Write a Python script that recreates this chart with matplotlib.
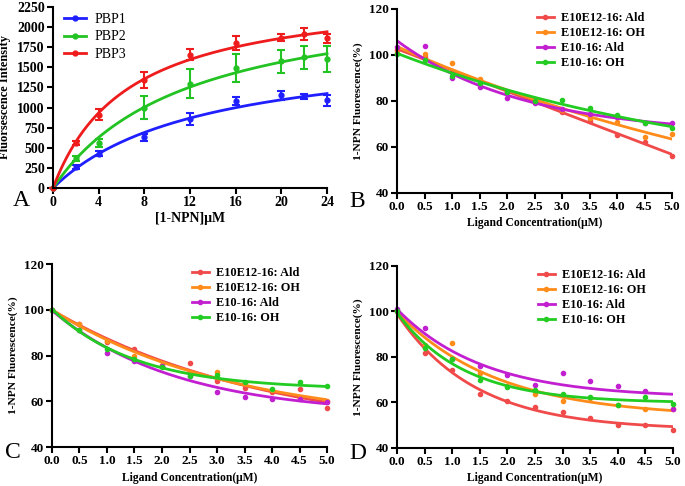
import numpy as np
import matplotlib
matplotlib.use('Agg')
import matplotlib.pyplot as plt
from matplotlib.ticker import FormatStrFormatter

plt.rcParams['font.family'] = 'Liberation Serif'
plt.rcParams['font.weight'] = 'bold'

# panel A - 1-NPN binding
npn_conc = [0, 2, 4, 8, 12, 16, 20, 22, 24]
pbp_names = ['PBP1', 'PBP2', 'PBP3']
pbp1 = [0, 260, 425, 630, 860, 1080, 1150, 1140, 1090]
pbp1_err = [0, 20, 30, 40, 75, 50, 50, 30, 70]
pbp2 = [0, 370, 560, 1000, 1295, 1495, 1575, 1625, 1600]
pbp2_err = [0, 30, 45, 145, 180, 175, 145, 140, 160]
pbp3 = [0, 555, 910, 1342, 1655, 1800, 1870, 1915, 1860]
pbp3_err = [0, 25, 70, 105, 70, 85, 45, 80, 60]
pbp_colors = ['#1f1fff', '#22c322', '#ee1c1c']

# panels B-D - competitive binding
lig_conc = [0, 0.5, 1.0, 1.5, 2.0, 2.5, 3.0, 3.5, 4.0, 4.5, 5.0]
lig_names = ['E10E12-16: Ald', 'E10E12-16: OH', 'E10-16: Ald', 'E10-16: OH']
lig_colors = ['#f04a4a', '#ff8c1a', '#c21fd0', '#22cc22']

b_vals = [
    [102, 99, 93, 89, 84, 79.5, 75, 71.4, 65.2, 62, 56.2],
    [101, 100.3, 96.4, 89.6, 84, 79.5, 76, 72.7, 70.7, 64.3, 65.5],
    [103.5, 104, 89.9, 86.1, 81.4, 79, 76.5, 74.5, 73, 70.6, 70.5],
    [100.4, 98, 91, 88, 84, 80, 80.6, 77, 73.8, 70.5, 68.1],
]
c_vals = [
    [100, 94, 86, 82.8, 75.5, 76.6, 68.9, 66, 64, 65.4, 56.9],
    [100, 94, 86.3, 80, 76, 73, 72.6, 68, 65, 61.5, 60],
    [100, 91, 81, 77.5, 75.5, 71, 64.2, 61.9, 60.9, 61, 59.5],
    [100, 91.1, 83, 78.3, 75, 71, 71.5, 68.5, 65.5, 68.4, 66.7],
]
d_vals = [
    [100, 81.9, 74.1, 63.9, 60.5, 58, 55.8, 53, 50, 50, 48],
    [100, 85.3, 86.2, 73, 67.3, 63.6, 60.7, 62, 59, 57, 57],
    [101, 92.9, 79, 76, 71.9, 67.8, 73.1, 69.4, 67.1, 64.9, 57.3],
    [100, 84, 79.3, 69.9, 67, 65.5, 63.9, 62.5, 59, 62.3, 59.5],
]


def fit_hyperbola(x, y):
    # one site binding, y = Bmax*x/(Kd+x)
    x = np.asarray(x, float)
    y = np.asarray(y, float)
    best = None
    for kd in np.linspace(0.5, 60, 2000):
        f = x / (kd + x)
        bmax = f.dot(y) / f.dot(f)
        sse = ((y - bmax * f) ** 2).sum()
        if best is None or sse < best[0]:
            best = (sse, bmax, kd)
    return best[1], best[2]


def fit_decay(x, y):
    # one phase decay, y = plateau + span*exp(-k*x)
    x = np.asarray(x, float)
    y = np.asarray(y, float)
    best = None
    for k in np.logspace(-2.5, 1, 1500):
        A = np.column_stack([np.ones_like(x), np.exp(-k * x)])
        coef, *_ = np.linalg.lstsq(A, y, rcond=None)
        sse = ((y - A.dot(coef)) ** 2).sum()
        if best is None or sse < best[0]:
            best = (sse, coef, k)
    return best[1], best[2]


def style_axes(ax, fs=9.5):
    for s in ['top', 'right']:
        ax.spines[s].set_visible(False)
    for s in ['left', 'bottom']:
        ax.spines[s].set_linewidth(1.5)
    ax.tick_params(direction='out', width=1.5, length=4, labelsize=fs, pad=2)


fig = plt.figure(figsize=(6.85, 4.86), dpi=100)

# ---- A ----
ax = fig.add_axes([0.0774, 0.6132, 0.4, 0.3724])
xx = np.linspace(0, 24, 200)
for name, vals, err, col in zip(pbp_names, [pbp1, pbp2, pbp3], [pbp1_err, pbp2_err, pbp3_err], pbp_colors):
    bmax, kd = fit_hyperbola(npn_conc, vals)
    ax.plot(xx, bmax * xx / (kd + xx), color=col, lw=2, clip_on=False)
    ax.errorbar(npn_conc, vals, yerr=err, fmt='o', ms=3.5, color=col, ecolor=col,
                elinewidth=1.5, capsize=3, capthick=1.5, clip_on=False)
    ax.plot([], [], color=col, lw=2, marker='o', ms=3.5, label=name)
ax.set_xlim(0, 24)
ax.set_ylim(0, 2250)
ax.set_xticks(np.arange(0, 25, 4))
ax.set_yticks(np.arange(0, 2251, 250))
style_axes(ax, 10)
ax.set_ylabel('Fluorsescence Intensity', fontsize=9, fontweight='bold', labelpad=4)
ax.set_xlabel('[1-NPN]μM', fontsize=10, fontweight='bold', labelpad=2)
ax.legend(loc='upper left', frameon=False, prop={'size': 10, 'weight': 'normal'},
          handlelength=1.6, handletextpad=0.6, borderaxespad=0.0,
          labelspacing=0.35, bbox_to_anchor=(0.02, 1.0))
fig.text(0.018, 0.588, 'A', fontsize=17, fontweight='normal', ha='left', va='center')

# ---- B, C, D ----
panels = [
    ('B', b_vals, [0.5796, 0.6029, 0.4015, 0.3786], (0.510, 0.586)),
    ('C', c_vals, [0.0759, 0.0802, 0.4015, 0.3765], (0.008, 0.068)),
    ('D', d_vals, [0.5796, 0.0782, 0.4029, 0.3745], (0.510, 0.066)),
]
xl = np.linspace(0, 5, 200)
for letter, series, rect, lpos in panels:
    ax = fig.add_axes(rect)
    for name, vals, col in zip(lig_names, series, lig_colors):
        coef, k = fit_decay(lig_conc, vals)
        ax.plot(xl, coef[0] + coef[1] * np.exp(-k * xl), color=col, lw=2)
        ax.plot(lig_conc, vals, 'o', ms=3, color=col, clip_on=False)
        ax.plot([], [], color=col, lw=2, marker='o', ms=3, label=name)
    ax.set_xlim(0, 5)
    ax.set_ylim(40, 120)
    ax.set_xticks(np.arange(0, 5.01, 0.5))
    ax.set_yticks(np.arange(40, 121, 20))
    ax.xaxis.set_major_formatter(FormatStrFormatter('%.1f'))
    style_axes(ax, 9.5)
    ax.set_ylabel('1-NPN Fluorescence(%)', fontsize=8.2, fontweight='bold', labelpad=4)
    ax.set_xlabel('Ligand Concentration(μM)', fontsize=8.4, fontweight='bold', labelpad=3)
    ax.legend(loc='upper right', frameon=False, prop={'size': 8.8, 'weight': 'bold'},
              handlelength=1.4, handletextpad=0.6, labelspacing=0.25, borderaxespad=0.0,
              bbox_to_anchor=(0.92, 1.01))
    fig.text(lpos[0], lpos[1], letter, fontsize=17, fontweight='normal', ha='left', va='center')

fig.savefig('out.png', dpi=100)
